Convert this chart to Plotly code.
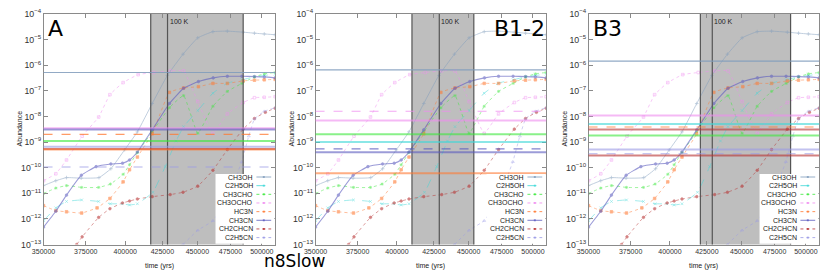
import math
import plotly.graph_objects as go

# ---------------- data ----------------
species = ["CH3OH", "C2H5OH", "CH3CHO", "CH3OCHO", "HC3N", "CH3CN", "CH2CHCN", "C2H5CN"]

ch3oh_t = [350000, 357100, 363400, 372200, 383200, 390700, 399600, 408000, 418000, 428500,
           439600, 450300, 461600, 472600, 485000, 494000, 502000, 511000]
ch3oh_v = [2.0e-11, 3.1e-11, 4.1e-11, 3.9e-11, 4.1e-11, 9.1e-11, 5.0e-10, 2.5e-9, 3.2e-8, 4.0e-7,
           2.7e-6, 1.17e-5, 2.04e-5, 2.14e-5, 1.95e-5, 1.78e-5, 1.66e-5, 1.55e-5]

c2h5oh_t = [350000, 357100, 363400, 372500, 383000, 390400, 398000, 402800, 408000, 418500,
            427000, 434600, 440000, 450300, 461600, 472600, 484000, 494000, 502000, 511000]
c2h5oh_v = [8.5e-13, 2.7e-12, 4.8e-12, 5.5e-12, 4.8e-12, 3.9e-12, 3.9e-12, 3.5e-12, 3.9e-12, 1.1e-11,
            1.1e-10, 1.1e-9, 4.0e-9, 1.7e-8, 8.1e-8, 2.0e-7, 2.7e-7, 3.5e-7, 4.0e-7, 4.4e-7]

ch3cho_t = [350000, 357100, 363400, 372500, 383000, 390400, 398600, 402800, 408000, 418000,
            429900, 440000, 450300, 461600, 472600, 484000, 494000, 502000, 511000]
ch3cho_v = [9.8e-12, 1.6e-11, 2.0e-11, 1.7e-11, 1.7e-11, 2.3e-11, 5.5e-11, 1.3e-10, 3.9e-10, 2.5e-9,
            2.2e-8, 6.5e-8, 2.2e-9, 2.5e-8, 9.5e-8, 1.95e-7, 3.5e-7, 4.6e-7, 5.2e-7]

ch3ocho_t = [350000, 357100, 363400, 372800, 383000, 390100, 398600, 408500, 419000, 430500,
             440000, 450300, 461600, 472600, 485000, 494000, 502000, 511000]
ch3ocho_v = [3.1e-11, 5.8e-11, 2.0e-10, 1.7e-9, 9.5e-9, 7.1e-8, 2.1e-7, 4.3e-7, 5.2e-7, 6.0e-7,
             6.0e-7, 3.8e-8, 2.2e-9, 1.26e-8, 3.5e-8, 5.4e-8, 5.6e-8, 5.9e-8]

hc3n_t = [350000, 357100, 363400, 372500, 382000, 390100, 398600, 402800, 408000, 418000,
          429900, 440000, 450800, 461600, 472600, 485000, 494000, 502000, 511000]
hc3n_v = [3.3e-12, 2.1e-12, 1.9e-12, 1.7e-12, 2.7e-12, 6.3e-12, 2.8e-11, 8.3e-11, 2.6e-10, 2.1e-9,
          8.7e-8, 1.3e-7, 1.45e-7, 1.95e-7, 1.95e-7, 2.45e-7, 2.6e-7, 2.7e-7, 2.8e-7]

ch3cn_t = [350000, 357100, 363400, 372300, 381400, 390700, 398200, 402800, 408000, 418000,
           429900, 440000, 450800, 461800, 472600, 484000, 494000, 502000, 511000]
ch3cn_v = [4.8e-13, 2.0e-12, 8.5e-12, 5.1e-11, 1.1e-10, 1.4e-10, 1.5e-10, 2.0e-10, 4.1e-10, 3.0e-9,
           3.2e-8, 1.26e-7, 2.3e-7, 3.2e-7, 3.7e-7, 3.7e-7, 3.6e-7, 3.5e-7, 3.2e-7]

ch2chcn_t = [369500, 372800, 383000, 390100, 398200, 402800, 408000, 418000, 430500, 439600,
             450300, 461600, 472600, 485000, 494000, 502900, 511000]
ch2chcn_v = [1.0e-13, 2.0e-13, 1.15e-12, 2.5e-12, 4.2e-12, 5.0e-12, 6.0e-12, 7.4e-12, 8.9e-12, 1.1e-11,
             1.9e-11, 7.9e-11, 5.1e-10, 3.2e-9, 8.3e-9, 1.45e-8, 2.1e-8]

c2h5cn_t = [439600, 450300, 461600, 472600, 483800, 489400, 494000, 502100, 511000]
c2h5cn_v = [1.0e-13, 3.6e-13, 8.5e-13, 6.3e-12, 1.7e-10, 1.7e-9, 7.9e-9, 1.6e-8, 2.2e-8]

model_t = [ch3oh_t, c2h5oh_t, ch3cho_t, ch3ocho_t, hc3n_t, ch3cn_t, ch2chcn_t, c2h5cn_t]
model_v = [ch3oh_v, c2h5oh_v, ch3cho_v, ch3ocho_v, hc3n_v, ch3cn_v, ch2chcn_v, c2h5cn_v]

panel_names = ["A", "B1-2", "B3"]
warm_start = [417000, 410000, 420500]
warm_100k = [428600, 428800, 428800]
warm_end = [485000, 453800, 487600]

# observed abundances (species, value, upper-limit flag)
obsA_species = ["CH3OH", "CH3OCHO", "CH3CN", "HC3N", "CH3CHO", "C2H5CN", "CH2CHCN", "HC3N", "C2H5CN"]
obsA_values = [5.2e-7, 3.5e-9, 3.1e-9, 2.0e-9, 1.1e-9, 6.6e-10, 5.4e-10, 5.1e-10, 1.07e-10]
obsA_upper = [False, False, False, True, False, False, False, False, True]

obsB12_species = ["CH3OH", "CH3OCHO", "CH3OCHO", "CH3CHO", "C2H5OH", "CH3CN", "CH3CN", "HC3N"]
obsB12_values = [6.6e-7, 1.6e-8, 7.0e-9, 2.0e-9, 1.0e-9, 5.4e-10, 4.0e-10, 6.0e-11]
obsB12_upper = [False, True, False, False, False, True, False, False]

obsB3_species = ["CH3OH", "CH3OCHO", "C2H5OH", "HC3N", "CH2CHCN", "CH3CHO", "C2H5CN", "C2H5CN", "CH2CHCN"]
obsB3_values = [1.45e-6, 1.1e-8, 5.1e-9, 3.9e-9, 3.1e-9, 1.8e-9, 5.1e-10, 3.5e-10, 3.0e-10]
obsB3_upper = [False, False, False, True, False, False, False, True, False]

obs_species = [obsA_species, obsB12_species, obsB3_species]
obs_values = [obsA_values, obsB12_values, obsB3_values]
obs_upper = [obsA_upper, obsB12_upper, obsB3_upper]

x_tick_vals = [350000, 375000, 400000, 425000, 450000, 475000, 500000]
x_min, x_max = 350000, 511000
y_min, y_max = 1e-13, 1e-4

# ---------------- styles ----------------
colors = {"CH3OH": "#7f9cbc", "C2H5OH": "#3fd8d8", "CH3CHO": "#3ce83c", "CH3OCHO": "#f08cf0",
          "HC3N": "#ff7a33", "CH3CN": "#5b5bbf", "CH2CHCN": "#b83030", "C2H5CN": "#9a9ae6"}
dashes = {"CH3OH": "solid", "C2H5OH": "dash", "CH3CHO": "dot", "CH3OCHO": "dot",
          "HC3N": "dot", "CH3CN": "solid", "CH2CHCN": "dot", "C2H5CN": "dot"}
symbols = {"CH3OH": "cross-thin-open", "C2H5OH": "x-thin-open", "CH3CHO": "asterisk-open",
           "CH3OCHO": "square-open", "HC3N": "square", "CH3CN": "circle", "CH2CHCN": "circle",
           "C2H5CN": "triangle-up-open"}

W, H = 830, 277
panel_px = [(32, 267), (308, 542), (585, 819)]
top_px, bot_px = 7.3, 248.3
FONT = "Liberation Sans, Arial, sans-serif"
BIG = "DejaVu Sans, sans-serif"


def px(xp):
    return xp / W


def py(yp):
    return 1 - yp / H


fig = go.Figure()
shapes = []
annotations = []

for k, name in enumerate(panel_names):
    xa = "x" if k == 0 else f"x{k + 1}"
    ya = "y" if k == 0 else f"y{k + 1}"
    for s, tt, vv in zip(species, model_t, model_v):
        fig.add_trace(go.Scatter(
            x=tt, y=vv, xaxis=xa, yaxis=ya, mode="lines+markers", name=s, showlegend=False,
            line=dict(color=colors[s], width=1.1 if s == "CH3CN" else 0.8, dash=dashes[s],
                      shape="spline", smoothing=0.35),
            marker=dict(symbol=symbols[s], size=2.6, color=colors[s], line=dict(width=0.7, color=colors[s])),
            opacity=0.6))

    # warm-up region
    shapes.append(dict(type="rect", xref=xa, yref=f"{ya} domain", x0=warm_start[k], x1=warm_end[k],
                       y0=0, y1=1, fillcolor="#bebebe", line=dict(width=0), layer="below"))
    for xv in (warm_start[k], warm_100k[k], warm_end[k]):
        shapes.append(dict(type="line", xref=xa, yref=f"{ya} domain", x0=xv, x1=xv, y0=0, y1=1,
                           line=dict(color="#555555", width=1.2), layer="above"))
    annotations.append(dict(xref=xa, yref=f"{ya} domain", x=math.log10(warm_100k[k]), y=0.99, text="100 K",
                            showarrow=False, xanchor="left", yanchor="top",
                            font=dict(family=FONT, size=7, color="#222")))

    # observations
    for s, v, up in zip(obs_species[k], obs_values[k], obs_upper[k]):
        if up:
            lw, op, dsh = 1.1, 0.75, "dash"
        elif s == "CH3OH":
            lw, op, dsh = 1.2, 0.85, "solid"
        else:
            lw, op, dsh = 2.0, 0.6, "solid"
        shapes.append(dict(type="line", xref=f"{xa} domain", yref=ya, x0=0, x1=1, y0=v, y1=v,
                           line=dict(color=colors[s], width=lw, dash=dsh), opacity=op, layer="above"))

    # legend (drawn manually, gnuplot style)
    L, R = panel_px[k]
    shapes.append(dict(type="rect", xref="paper", yref="paper", x0=px(R - 60.5), x1=px(R - 0.8),
                       y0=py(247.5), y1=py(174.5), fillcolor="white", line=dict(width=0), layer="above"))
    for i, s in enumerate(species):
        yc = 177.7 + 9.05 * i
        annotations.append(dict(xref="paper", yref="paper", x=px(R - 20), y=py(yc), text=s,
                                showarrow=False, xanchor="right", yanchor="middle",
                                font=dict(family=FONT, size=7, color="#222")))
        shapes.append(dict(type="line", xref="paper", yref="paper", x0=px(R - 19), x1=px(R - 4),
                           y0=py(yc), y1=py(yc), line=dict(color=colors[s], width=1, dash=dashes[s]),
                           opacity=0.8, layer="above"))
        shapes.append(dict(type="rect", xref="paper", yref="paper", x0=px(R - 12.5), x1=px(R - 10.5),
                           y0=py(yc + 1), y1=py(yc - 1), fillcolor=colors[s], line=dict(width=0),
                           opacity=0.8, layer="above"))

    # panel label
    if name == "B1-2":
        annotations.append(dict(xref="paper", yref="paper", x=px(R + 1), y=py(7), text=name, showarrow=False,
                                xanchor="right", yanchor="top", font=dict(family=BIG, size=22, color="black")))
    else:
        annotations.append(dict(xref="paper", yref="paper", x=px(L + 3), y=py(7), text=name, showarrow=False,
                                xanchor="left", yanchor="top", font=dict(family=BIG, size=22, color="black")))
    # axis titles
    annotations.append(dict(xref="paper", yref="paper", x=px((L + R) / 2), y=py(270.5), text="time (yrs)",
                            showarrow=False, xanchor="center", yanchor="middle",
                            font=dict(family=FONT, size=7, color="#222")))
    annotations.append(dict(xref="paper", yref="paper", x=px(L - 24), y=py(127), text="Abundance",
                            showarrow=False, textangle=-90, xanchor="center", yanchor="middle",
                            font=dict(family=FONT, size=7, color="#222")))

    axis_common = dict(showline=True, linecolor="#8a8a8a", linewidth=1, mirror="ticks", ticks="inside",
                       tickcolor="#8a8a8a", ticklen=4, showgrid=False, zeroline=False,
                       tickfont=dict(family=FONT, size=7, color="#333"))
    fig.layout[("xaxis" if k == 0 else f"xaxis{k + 1}")] = dict(
        type="log", range=[math.log10(x_min), math.log10(x_max)],
        domain=[px(L), px(R)], anchor=ya, tickvals=x_tick_vals, ticktext=[str(v) for v in x_tick_vals],
        **axis_common)
    fig.layout[("yaxis" if k == 0 else f"yaxis{k + 1}")] = dict(
        type="log", range=[math.log10(y_min), math.log10(y_max)], domain=[py(bot_px), py(top_px)],
        anchor=xa, dtick=1, exponentformat="power", **axis_common)

annotations.append(dict(xref="paper", yref="paper", x=px(287), y=0, text="n8Slow", showarrow=False,
                        xanchor="center", yanchor="bottom", borderpad=0,
                        font=dict(family=BIG, size=17, color="black")))

fig.update_layout(width=W, height=H, margin=dict(l=0, r=0, t=0, b=0), paper_bgcolor="white",
                  plot_bgcolor="white", shapes=shapes, annotations=annotations, showlegend=False)
fig.write_html("out.html", config={"displayModeBar": False},
               post_script="document.body.style.margin='0px';")
